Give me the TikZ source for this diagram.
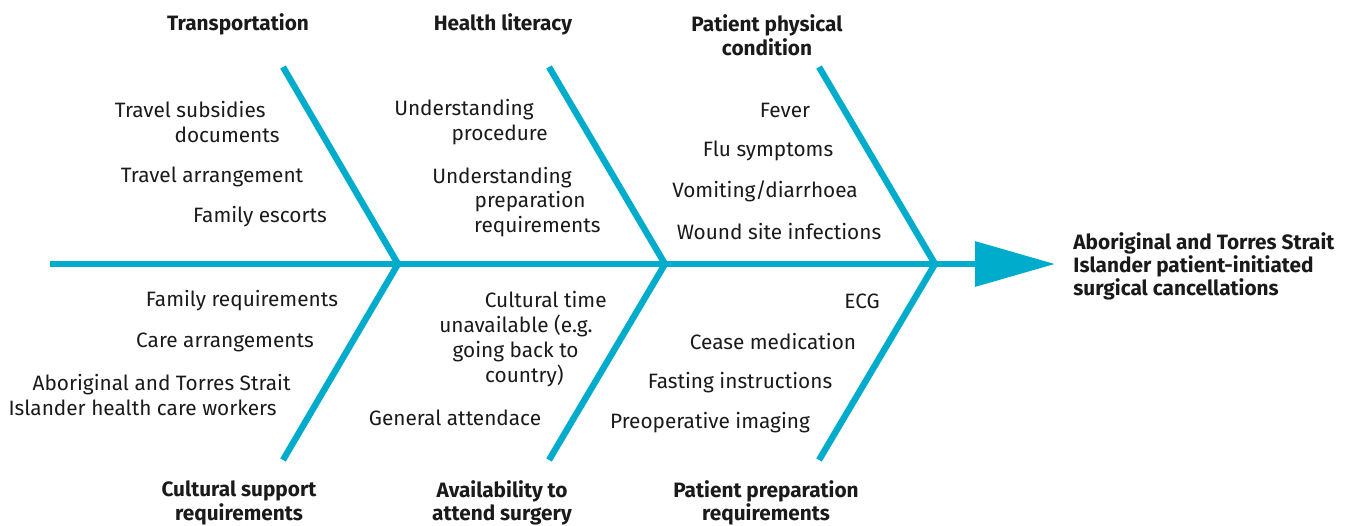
\documentclass[tikz,border=0pt]{standalone}
\usepackage{fontspec}
\setmainfont{Fira Sans}
\usetikzlibrary{arrows.meta}

\definecolor{bone}{RGB}{0,172,203}
\definecolor{ink}{RGB}{26,26,26}

\tikzset{
  bonestyle/.style = {draw = bone, line width = 3.2pt},
  cause/.style = {font = \fontsize{10.4}{11.75}\selectfont\bfseries, text = ink, align = center, inner sep = 0, yshift = -1pt},
  item/.style = {font = \fontsize{10.4}{12.4}\selectfont, text = ink, align = center, inner sep = 0, yshift = -1pt},
  wrapped/.style = {item, align = right, anchor = east},
}
% indent of a wrapped line (a rule, so it is never dropped)
\newcommand{\ind}[1]{\rule{#1pt}{0pt}}

\begin{document}
\begin{tikzpicture}[x = 0.5pt, y = -0.5pt]
\useasboundingbox (0, 0) rectangle (1352, 525);
% spine and joints
\coordinate (tail) at (50, 264);
\coordinate (head) at (1055, 264);
\coordinate (j1) at (398, 264);
\coordinate (j2) at (665, 264);
\coordinate (j3) at (935, 264);
% bone ends
\coordinate (u1) at (283, 67);
\coordinate (u2) at (549, 67);
\coordinate (u3) at (819, 67);
\coordinate (l1) at (283, 460);
\coordinate (l2) at (549, 460);
\coordinate (l3) at (819, 460);
\draw[bonestyle, -{Triangle[length = 40pt, width = 22pt]}] (tail) -- (head);
\draw[bonestyle] (u1) -- (j1) -- (l1);
\draw[bonestyle] (u2) -- (j2) -- (l2);
\draw[bonestyle] (u3) -- (j3) -- (l3);
% effect
\node[cause, font = \fontsize{10.4}{11.5}\selectfont\bfseries, align = left, anchor = west] (effect) at (1073, 264) {Aboriginal and Torres Strait\\Islander patient-initiated\\surgical cancellations};
% upper causes
\node[cause] (transport) at (238, 22) {Transportation};
\node[cause] (literacy) at (503, 22) {Health literacy};
\node[cause] (physical) at (767, 33) {Patient physical\\condition};
\node[wrapped] (subsidies) at (280, 120) {Travel subsidies\ind{7}\\documents};
\node[item] (arrange) at (212, 175) {Travel arrangement};
\node[item] (escorts) at (260, 215) {Family escorts};
\node[wrapped] (procedure) at (548, 120) {Understanding\ind{7}\\procedure};
\node[wrapped] (prepreq) at (601, 200) {Understanding\ind{14.5}\\preparation\ind{7.5}\\requirements};
\node[item] (fever) at (785, 108) {Fever};
\node[item] (flu) at (768, 149) {Flu symptoms};
\node[item] (vomit) at (765, 189) {Vomiting/diarrhoea};
\node[item] (wound) at (779, 230) {Wound site infections};
% lower causes
\node[cause] (cultural) at (239, 501) {Cultural support\\requirements};
\node[cause] (avail) at (502, 501) {Availability to\\attend surgery};
\node[cause] (prep) at (766, 501) {Patient preparation\\requirements};
\node[item] (family) at (242, 299) {Family requirements};
\node[item] (care) at (225, 340) {Care arrangements};
\node[wrapped] (workers) at (291, 393) {Aboriginal and Torres Strait\\Islander health care workers\ind{7}};
\node[wrapped] (culttime) at (607, 337) {Cultural time\\unavailable (e.g.\ind{7}\\going back to\ind{14}\\country)\ind{21.5}};
\node[item] (attend) at (455, 416) {General attendace};
\node[item] (ecg) at (862, 299) {ECG};
\node[item] (cease) at (773, 340) {Cease medication};
\node[item] (fasting) at (740, 381) {Fasting instructions};
\node[item] (imaging) at (710, 421) {Preoperative imaging};
\end{tikzpicture}
\end{document}
